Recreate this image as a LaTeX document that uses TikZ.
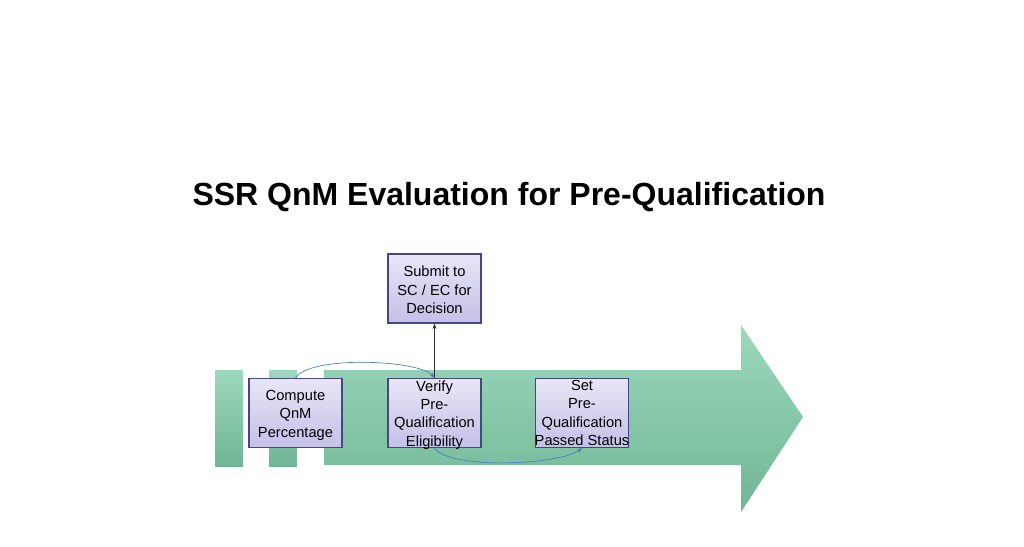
\documentclass[tikz,border=0pt]{standalone}
\usepackage{fontspec}
\setmainfont{Liberation Sans}
\usetikzlibrary{arrows.meta}
\definecolor{gtop}{RGB}{156,216,189}
\definecolor{gbot}{RGB}{112,182,150}
\definecolor{btop}{RGB}{232,230,246}
\definecolor{bbot}{RGB}{196,192,232}
\definecolor{bdraw}{RGB}{70,70,130}
\definecolor{curve}{RGB}{70,125,190}
\tikzset{
  pbox/.style={draw=bdraw, line width=0.8pt, top color=btop, bottom color=bbot,
    minimum width=93*0.75pt, minimum height=69*0.75pt, inner sep=0pt},
  ptext/.style={align=center, inner sep=0pt,
    font=\fontsize{11pt}{13.8pt}\selectfont},
  greenshape/.style={top color=gtop, bottom color=gbot, draw=none},
  flow/.style={draw=curve, line width=0.5pt, -{Stealth[length=4pt,width=3pt]}},
  up/.style={draw=black!80, line width=0.6pt, -{Stealth[length=4pt,width=3pt]}}
}
\begin{document}
\begin{tikzpicture}[x=0.75pt,y=-0.75pt]
\useasboundingbox (0,0) rectangle (1024,546);
% arrow
\path[greenshape] (324,370) -- (741,370) -- (741,325) -- (803,417) -- (741,512) -- (741,465) -- (324,465) -- cycle;
\path[greenshape] (215,370) rectangle (243,466);
\path[greenshape] (269,370) rectangle (297,466);
% title
\node[font=\fontsize{24pt}{28pt}\selectfont\bfseries] (title) at (509,197) {SSR QnM Evaluation for Pre-Qualification};
% boxes
\node[pbox] (compute) at (295.5,413) {};
\node[pbox] (verify) at (434.5,413) {};
\node[pbox] (submit) at (434.5,288.5) {};
\node[pbox] (set) at (582,413) {};
\node[ptext] (computeT) at (295.5,415) {Compute\\QnM\\Percentage};
\node[ptext] (verifyT) at (434.5,415) {Verify\\Pre-\\Qualification\\Eligibility};
\node[ptext] (submitT) at (434.5,290) {Submit to\\SC / EC for\\Decision};
\node[ptext] (setT) at (582,413) {Set\\Pre-\\Qualification\\Passed Status};
% connectors
\draw[up] (verify.north) -- (submit.south);
\draw[flow] (compute.north) .. controls (310,355) and (420,360) .. (verify.north);
\draw[flow] (verify.south) .. controls (450,470) and (560,465) .. (set.south);
\end{tikzpicture}
\end{document}
